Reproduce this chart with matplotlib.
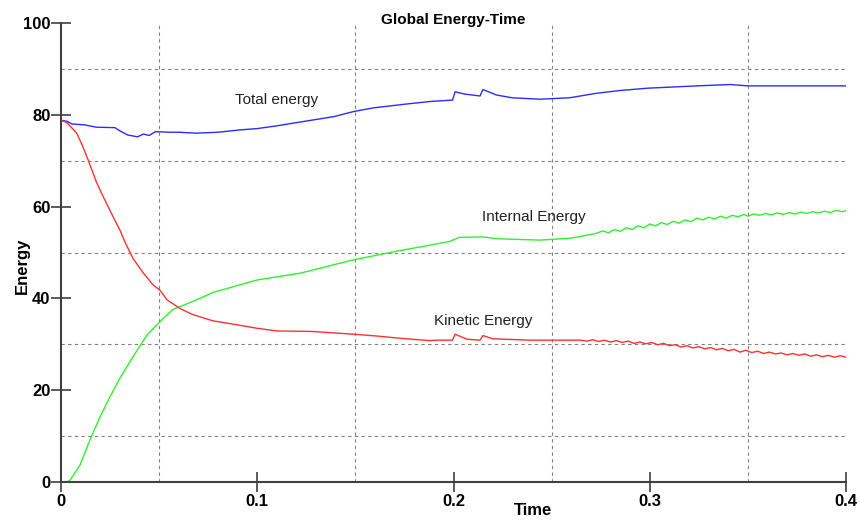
import matplotlib
matplotlib.use("Agg")
import matplotlib.pyplot as plt

plt.rcParams['font.family'] = ['Liberation Sans', 'DejaVu Sans']

# ---- data ----
t_total = [0, 0.003, 0.0056, 0.012, 0.018, 0.0275, 0.030, 0.034, 0.039, 0.042, 0.045,
           0.048, 0.050, 0.055, 0.060, 0.069, 0.080, 0.091, 0.100, 0.110, 0.123, 0.139,
           0.149, 0.159, 0.175, 0.188, 0.1995, 0.2008, 0.206, 0.2135, 0.215, 0.222, 0.230,
           0.244, 0.259, 0.273, 0.285, 0.299, 0.324, 0.341, 0.35, 0.37, 0.40]
e_total = [78.8, 78.6, 78.0, 77.8, 77.3, 77.2, 76.5, 75.6, 75.2, 75.8, 75.5,
           76.3, 76.3, 76.2, 76.2, 76.0, 76.2, 76.7, 77.0, 77.6, 78.5, 79.6,
           80.7, 81.5, 82.3, 82.9, 83.2, 85.0, 84.5, 84.1, 85.5, 84.3, 83.7,
           83.4, 83.7, 84.7, 85.3, 85.8, 86.3, 86.6, 86.3, 86.3, 86.3]

t_internal = [0, 0.003, 0.0046, 0.0097, 0.0148, 0.0199, 0.025, 0.030, 0.0367, 0.0438,
              0.0504, 0.057, 0.067, 0.0775, 0.0998, 0.122, 0.149, 0.170, 0.188, 0.198,
              0.203, 0.215, 0.222, 0.244, 0.259, 0.266, 0.273,
              0.276, 0.279, 0.282, 0.285, 0.288, 0.291, 0.294, 0.297, 0.300, 0.303,
              0.306, 0.309, 0.312, 0.315, 0.318, 0.321, 0.324, 0.327, 0.330, 0.333,
              0.336, 0.339, 0.342, 0.345, 0.348, 0.350, 0.353, 0.356, 0.359, 0.362,
              0.365, 0.368, 0.371, 0.374, 0.377, 0.380, 0.383, 0.386, 0.389, 0.392,
              0.395, 0.398, 0.400]
e_internal = [0, 0.0, 0.4, 3.7, 9.2, 14.2, 18.6, 22.6, 27.3, 32.0,
              34.9, 37.6, 39.3, 41.3, 44.0, 45.5, 48.4, 50.2, 51.6, 52.4,
              53.3, 53.4, 53.0, 52.7, 53.1, 53.6, 54.2,
              54.7, 54.3, 55.0, 54.6, 55.4, 55.0, 55.8, 55.4, 56.2, 55.8,
              56.5, 56.1, 56.8, 56.4, 57.1, 56.7, 57.5, 57.1, 57.7, 57.3,
              57.9, 57.5, 58.1, 57.8, 58.3, 57.9, 58.4, 58.1, 58.5, 58.2,
              58.6, 58.3, 58.7, 58.4, 58.8, 58.5, 58.9, 58.6, 59.0, 58.7,
              59.2, 58.9, 59.1]

t_kinetic = [0, 0.003, 0.0056, 0.008, 0.011, 0.0138, 0.018, 0.021, 0.024, 0.027, 0.030,
             0.033, 0.0367, 0.042, 0.047, 0.0504, 0.054, 0.0606, 0.067, 0.0775, 0.0876,
             0.0998, 0.110, 0.128, 0.149, 0.161, 0.173, 0.188, 0.1915, 0.1995, 0.2008,
             0.207, 0.2135, 0.215, 0.220, 0.239, 0.2645,
             0.268, 0.271, 0.274, 0.277, 0.280, 0.283, 0.286, 0.289, 0.292, 0.295,
             0.298, 0.301, 0.304, 0.307, 0.310, 0.313, 0.316, 0.319, 0.322, 0.325,
             0.328, 0.331, 0.334, 0.337, 0.340, 0.343, 0.346, 0.349, 0.352, 0.355,
             0.358, 0.361, 0.364, 0.367, 0.370, 0.373, 0.376, 0.379, 0.382, 0.385,
             0.388, 0.391, 0.394, 0.397, 0.400]
e_kinetic = [78.8, 78.3, 77.1, 76.0, 73.2, 70.2, 65.4, 62.6, 60.0, 57.4, 54.9,
             51.9, 48.7, 45.5, 42.9, 41.8, 39.7, 37.8, 36.5, 35.1, 34.4,
             33.5, 32.9, 32.8, 32.2, 31.8, 31.3, 30.8, 30.9, 30.9, 32.2,
             31.1, 30.9, 31.9, 31.2, 30.9, 30.9,
             30.7, 31.0, 30.6, 30.9, 30.5, 30.8, 30.4, 30.7, 30.2, 30.5,
             30.1, 30.4, 29.9, 30.2, 29.7, 29.9, 29.4, 29.7, 29.2, 29.5,
             29.0, 29.3, 28.8, 29.1, 28.6, 28.9, 28.3, 28.7, 28.2, 28.5,
             28.0, 28.3, 27.9, 28.1, 27.7, 28.0, 27.6, 27.9, 27.4, 27.7,
             27.3, 27.6, 27.2, 27.5, 27.2]

x_ticks = [0, 0.1, 0.2, 0.3, 0.4]
x_tick_labels = ["0", "0.1", "0.2", "0.3", "0.4"]
y_ticks = [0, 20, 40, 60, 80, 100]
y_tick_labels = ["0", "20", "40", "60", "80", "100"]
x_grid = [0.05, 0.15, 0.25, 0.35]
y_grid = [10, 30, 50, 70, 90]

labels = ["Total energy", "Internal Energy", "Kinetic Energy"]
label_pos = [(0.1096, 83.2), (0.241, 57.7), (0.215, 35.1)]

# ---- figure ----
fig = plt.figure(figsize=(8.6, 5.2), dpi=100)
ax = fig.add_axes([61/860, 38/520, 785/860, 459/520])

ax.plot(t_total, e_total, color="#2b2bff", lw=1.0)
ax.plot(t_internal, e_internal, color="#2ef02e", lw=1.0)
ax.plot(t_kinetic, e_kinetic, color="#ff3030", lw=1.0)

ax.set_xlim(0, 0.4)
ax.set_ylim(0, 100)
ax.set_xticks(x_ticks)
ax.set_xticklabels(x_tick_labels)
ax.set_yticks(y_ticks)
ax.set_yticklabels(y_tick_labels)
ax.set_xticks(x_grid, minor=True)
ax.set_yticks(y_grid, minor=True)

ax.grid(which="minor", color="#808080", linestyle=(0, (3, 3)), linewidth=0.8)
ax.grid(which="major", visible=False)
ax.set_axisbelow(True)

for s in ["top", "right"]:
    ax.spines[s].set_visible(False)
for s in ["left", "bottom"]:
    ax.spines[s].set_color("#404040")
    ax.spines[s].set_linewidth(1.5)

ax.tick_params(which="major", direction="inout", length=15, width=1.2, color="#404040",
               labelsize=12, pad=0)
ax.tick_params(axis="x", which="major", pad=1)
ax.tick_params(which="minor", length=0)
for lab in ax.get_xticklabels() + ax.get_yticklabels():
    lab.set_fontweight("bold")

ax.set_title("Global Energy-Time", fontsize=11, fontweight="bold", y=1.0, pad=-1)
ax.set_xlabel("Time", fontsize=12, fontweight="bold")
ax.xaxis.set_label_coords((533 - 61) / 785, -0.046)
ax.set_ylabel("Energy", fontsize=12, fontweight="bold")
ax.yaxis.set_label_coords(-0.04, 0.47)

for txt, (x, y) in zip(labels, label_pos):
    ax.text(x, y, txt, fontsize=11, ha="center", va="center", color="#222222")

fig.savefig("out.png", dpi=100)
